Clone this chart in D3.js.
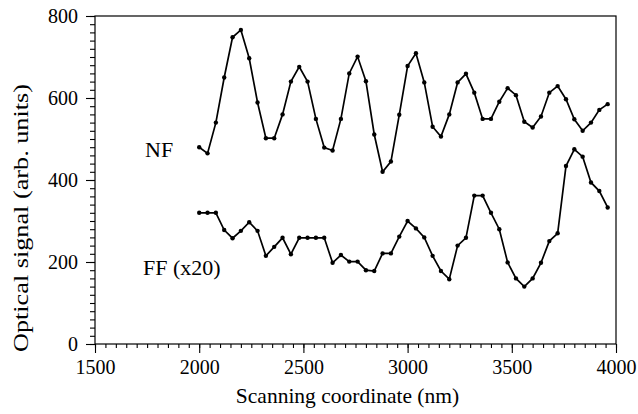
<!DOCTYPE html>
<html>
<head>
<meta charset="utf-8">
<script src="https://cdn.jsdelivr.net/npm/d3@7"></script>
<style>
  body { margin: 0; background: #fff; }
  svg text { font-family: "Liberation Serif", "Times New Roman", "DejaVu Serif", serif !important; fill: #000; }
</style>
</head>
<body>
<svg class="chart" width="638" height="414"></svg>
<script>

// scanning positions, one every 40 nm
const positions = d3.range(50).map(i => 2000 + 40 * i);

const nf = [
    480, 465, 540, 650, 748, 766, 697, 589, 502, 502,
    560, 640, 676, 640, 549, 479, 472, 549, 660, 701,
    641, 511, 420, 445, 559, 678, 709, 638, 530, 506,
    560, 638, 659, 613, 549, 549, 591, 624, 607, 542,
    528, 555, 613, 629, 597, 548, 520, 540, 571, 585
];

const ff = [
    320, 320, 320, 278, 258, 276, 297, 276, 215, 237,
    259, 219, 259, 259, 259, 259, 198, 217, 201, 201,
    180, 178, 221, 221, 262, 300, 282, 260, 215, 178,
    158, 240, 259, 362, 362, 320, 280, 199, 160, 140,
    160, 198, 251, 270, 434, 475, 457, 394, 373, 333
];

const xTicks = [1500, 2000, 2500, 3000, 3500, 4000];
const yTicks = [0, 200, 400, 600, 800];

const labels = [
    { text: 'NF', x: 1740, y: 456 },
    { text: 'FF (x20)', x: 1730, y: 168 }
];

const margin = { top: 16, right: 22, bottom: 70, left: 95 };
const W = 638, H = 414;
const serif = '"Liberation Serif", "Times New Roman", serif';

const svg = d3.select('.chart');

const x = d3.scaleLinear().domain([1500, 4000]).range([margin.left, W - margin.right]);
const y = d3.scaleLinear().domain([0, 800]).range([H - margin.bottom, margin.top]);

// frame
svg.append('rect')
    .attr('x', x(1500)).attr('y', y(800))
    .attr('width', x(4000) - x(1500)).attr('height', y(0) - y(800))
    .attr('fill', 'none').attr('stroke', '#000').attr('stroke-width', 1.2);

// minor ticks
svg.append('g')
    .attr('transform', `translate(0,${y(0)})`)
    .call(d3.axisBottom(x).tickValues(d3.range(1500, 4001, 50)).tickSize(4).tickFormat(''))
    .call(g => g.select('.domain').remove());

svg.append('g')
    .attr('transform', `translate(${x(1500)},0)`)
    .call(d3.axisLeft(y).tickValues(d3.range(0, 801, 20)).tickSize(5).tickFormat(''))
    .call(g => g.select('.domain').remove());

// major ticks
svg.append('g')
    .attr('transform', `translate(0,${y(0)})`)
    .call(d3.axisBottom(x).tickValues(xTicks).tickSize(9).tickPadding(7).tickFormat(d3.format('d')))
    .call(g => g.select('.domain').remove());

svg.append('g')
    .attr('transform', `translate(${x(1500)},0)`)
    .call(d3.axisLeft(y).tickValues(yTicks).tickSize(9).tickPadding(8).tickFormat(d3.format('d')))
    .call(g => g.select('.domain').remove());

svg.selectAll('.tick line').attr('stroke', '#000').attr('stroke-width', 1.1);
svg.selectAll('.tick text')
    .attr('font-family', serif)
    .attr('font-size', 20)
    .attr('fill', '#000');

// axis titles
svg.append('text')
    .attr('x', (x(1500) + x(4000)) / 2 - 8)
    .attr('y', H - 11)
    .attr('text-anchor', 'middle')
    .attr('font-family', serif)
    .attr('font-size', 21.5)
    .text('Scanning coordinate (nm)');

svg.append('text')
    .attr('transform', `translate(28,218) rotate(-90)`)
    .attr('text-anchor', 'middle')
    .attr('font-family', serif)
    .attr('font-size', 20)
    .attr('textLength', 268)
    .attr('lengthAdjust', 'spacingAndGlyphs')
    .text('Optical signal (arb. units)');

// series
const line = d3.line()
    .x((d, i) => x(positions[i]))
    .y(d => y(d));

[nf, ff].forEach(series => {

    svg.append('path')
        .datum(series)
        .attr('d', line)
        .attr('fill', 'none')
        .attr('stroke', '#000')
        .attr('stroke-width', 1.7);

    svg.append('g')
        .selectAll('circle')
        .data(series)
        .join('circle')
        .attr('cx', (d, i) => x(positions[i]))
        .attr('cy', d => y(d))
        .attr('r', 2.2)
        .attr('fill', '#000');

});

svg.selectAll('text.series-label')
    .data(labels)
    .join('text')
    .classed('series-label', true)
    .attr('x', d => x(d.x))
    .attr('y', d => y(d.y))
    .attr('font-family', serif)
    .attr('font-size', 22)
    .text(d => d.text);

</script>
</body>
</html>
